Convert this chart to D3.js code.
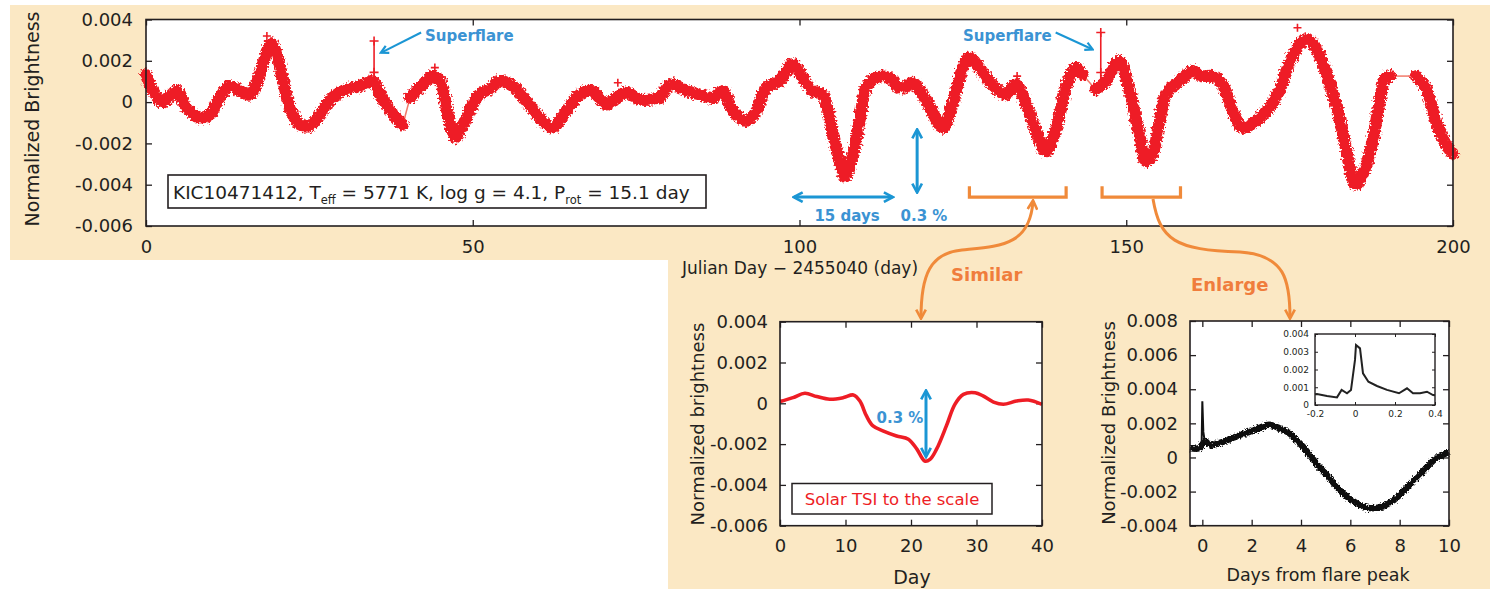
<!DOCTYPE html>
<html><head><meta charset="utf-8">
<script src="https://cdn.jsdelivr.net/npm/d3@7"></script>
<style>
body{margin:0;background:#fff}
svg{display:block}
text{font-family:"DejaVu Sans",sans-serif;fill:#231f20}
</style>
</head><body>
<svg id="fig" width="1490" height="589"></svg>
<script>
// ---- KIC 10471412 light curve (normalized brightness, in units of 1e-3) ----
const lcDay = [0,1.1,2.6,3.7,4.7,6.2,8.2,9.8,11.3,12.8,14.4,15.9,17.4,18.5,19.2,20.0,21.0,22.0,23.5,25.0,26.6,28.6,30.7,32.7,34.7,35.8,37.8,39.3,
  40.4,41.9,43.9,45.0,46.2,47.3,48.3,49.5,51.0,52.6,54.1,56.1,58.2,60.2,62.2,64.3,66.4,68.3,70.4,72.0,73.5,75.5,77.5,78.6,79.6,80.6,82.7,84.7,86.7,88.3,89.8,91.8,93.4,94.9,96.9,98.9,100.5,102.0,103.5,105.0,106.4,106.9,107.9,109.2,110.2,111.7,113.8,115.0,
  116.2,117.3,118.8,119.9,121.9,123.4,125.0,126.0,127.5,129.5,131.6,133.1,134.7,136.2,137.7,139.3,140.8,142.3,143.3,
  145.3,146.9,148.9,150.5,152.0,153.0,154.0,155.0,156.1,158.1,160.1,161.6,163.2,164.7,166.3,167.8,169.8,171.9,173.4,174.9,176.5,177.7,179.0,180.5,182.1,183.6,185.1,186.4,187.7,188.7,189.7,190.4,
  194.3,195.8,197.4,198.9,200.0];
const lcFlux = [1.3,0.53,0.0,0.3,0.55,-0.26,-0.74,-0.6,0.23,0.78,0.53,0.37,1.34,2.48,2.85,2.3,1.02,-0.26,-1.08,-1.16,-0.6,0.23,0.62,0.78,1.02,0.37,-0.6,-1.1,
  0.21,0.7,1.26,1.02,-0.6,-1.71,-1.23,-0.44,0.37,0.62,1.02,0.78,0.05,-0.74,-1.23,-0.44,0.37,0.53,-0.11,0.21,0.46,0.13,0.13,0.2,0.7,0.86,0.53,0.37,0.21,0.53,-0.44,-0.92,-0.44,0.7,1.02,1.83,1.18,0.53,0.37,-1.41,-3.17,-3.6,-2.86,-0.92,0.7,1.18,1.18,0.7,
  0.7,0.94,0.37,-0.2,-1.24,-0.11,1.67,2.16,1.67,0.86,0.37,0.86,-0.11,-1.41,-2.38,-1.24,0.7,1.67,1.34,
  0.62,1.02,1.99,0.53,-1.57,-2.86,-2.54,-1.08,0.37,1.0,1.5,1.26,1.26,0.86,-0.44,-1.24,-0.92,-0.27,0.53,1.83,2.8,3.04,2.64,1.5,-0.11,-2.21,-4.0,-3.35,-1.89,-0.11,1.18,1.26,
  1.26,0.7,-0.92,-2.05,-2.5];
const lcGapAfter = [39.3, 115.0, 143.3, 190.4];   // last day before each data gap
const flareDay = [34.9, 146.1];
const flareBase = [1.0, 0.8];
const flareMid = [1.44, 1.43];
const flarePeak = [2.96, 3.37];
const outlierDay = [0.0, 18.5, 44.2, 72.2, 133.3, 176.2, 199.6];
const outlierFlux = [1.5, 3.2, 1.67, 0.94, 1.26, 3.6, -2.54];
const mainXTicks = [0, 50, 100, 150, 200];
const mainXTickLabels = ["0", "50", "100", "150", "200"];
const mainYTicks = [-6, -4, -2, 0, 2, 4];
const mainYTickLabels = ["-0.006", "-0.004", "-0.002", "0", "0.002", "0.004"];

// ---- Solar TSI scaled to the same amplitude ----
const tsiDay = [0,0.3,2,3.8,5.6,7.6,9.7,11.2,12.2,13.2,14.2,15.8,17.8,19.6,20.9,22.1,22.9,23.9,25.4,26.7,28,29.8,31,32.6,34.1,36.1,37.9,40];
const tsiFlux = [0.1,0.11,0.28,0.49,0.33,0.2,0.28,0.41,0.11,-0.62,-1.11,-1.36,-1.6,-1.76,-2.25,-2.83,-2.75,-2.25,-1.11,-0.05,0.44,0.52,0.36,0.06,-0.05,0.11,0.16,-0.05];
const tsiXTicks = [0, 10, 20, 30, 40];
const tsiXTickLabels = ["0", "10", "20", "30", "40"];

// ---- Superflare enlargement ----
const flareLcDay = [-0.5,-0.13,-0.03,0,0.04,0.1,0.34,0.68,1.22,1.76,2.3,2.71,3.12,3.52,4.07,4.61,5.15,5.69,6.24,6.78,7.32,7.86,8.4,8.94,9.49,10];
const flareLcFlux = [0.55,0.55,0.6,3.3,1.5,0.94,0.74,0.84,1.14,1.43,1.72,1.92,1.72,1.43,0.64,-0.33,-1.21,-2.09,-2.67,-2.97,-2.87,-2.38,-1.6,-0.82,-0.04,0.29];
const flareXTicks = [0, 2, 4, 6, 8, 10];
const flareXTickLabels = ["0", "2", "4", "6", "8", "10"];
const flareYTicks = [-4, -2, 0, 2, 4, 6, 8];
const flareYTickLabels = ["-0.004", "-0.002", "0", "0.002", "0.004", "0.006", "0.008"];
const insetDay = [-0.2,-0.19,-0.14,-0.09,-0.067,-0.04,-0.02,0,0.005,0.025,0.04,0.067,0.11,0.16,0.22,0.26,0.29,0.325,0.36,0.39,0.4];
const insetFlux = [0.6,0.62,0.51,0.43,0.85,0.66,0.85,2.54,3.38,3.19,1.78,1.31,1.07,0.85,0.66,0.94,0.66,0.66,0.75,0.56,0.55];
const insetXTicks = [-0.2, 0, 0.2, 0.4];
const insetXTickLabels = ["-0.2", "0", "0.2", "0.4"];
const insetYTicks = [0, 1, 2, 3, 4];
const insetYTickLabels = ["0", "0.001", "0.002", "0.003", "0.004"];

const RED = "#ee1d25", BLUE = "#1b96d4", ORANGE = "#f08a3a", INK = "#231f20", BEIGE = "#fbe8c4";

const svg = d3.select("#fig");

// background panels
svg.append("rect").attr("x", 0).attr("y", 0).attr("width", 1490).attr("height", 589).attr("fill", "#fff");
svg.append("rect").attr("x", 10).attr("y", 5).attr("width", 1480).attr("height", 255).attr("fill", BEIGE);
svg.append("rect").attr("x", 668).attr("y", 259).attr("width", 822).attr("height", 330).attr("fill", BEIGE);

const defs = svg.append("defs");
// photometric scatter: roughen the edges of the light-curve bands
function roughFilter(id, freq, scale) {
  const f = defs.append("filter").attr("id", id).attr("x", "-5%").attr("y", "-20%").attr("width", "110%").attr("height", "140%");
  f.append("feTurbulence").attr("type", "fractalNoise").attr("baseFrequency", freq).attr("numOctaves", 2).attr("seed", 3).attr("result", "noise");
  f.append("feDisplacementMap").attr("in", "SourceGraphic").attr("in2", "noise").attr("scale", scale)
    .attr("xChannelSelector", "R").attr("yChannelSelector", "G");
}
roughFilter("roughRed", 0.45, 7);
roughFilter("roughBlack", 0.6, 5);

// arrowhead markers
function marker(id, color, size) {
  defs.append("marker").attr("id", id).attr("viewBox", "0 0 10 10")
    .attr("refX", 8).attr("refY", 5).attr("markerWidth", size).attr("markerHeight", size)
    .attr("orient", "auto-start-reverse").attr("markerUnits", "strokeWidth")
    .append("path").attr("d", "M1,1 L8.5,5 L1,9").attr("fill", "none")
    .attr("stroke", color).attr("stroke-width", 2.2).attr("stroke-linejoin", "miter");
}
marker("arrBlue", BLUE, 4);
marker("arrBlueS", BLUE, 5);
marker("arrOrange", ORANGE, 4);

// framed axes with inward ticks on all four sides
function framedAxes(g, x, y, o) {
  const [x0, x1] = x.range(), [y0, y1] = y.range();
  g.append("rect").attr("x", x0).attr("y", y1).attr("width", x1 - x0).attr("height", y0 - y1).attr("fill", "#fff");
  const style = sel => {
    sel.select(".domain").remove();
    sel.selectAll(".tick line").attr("stroke", INK).attr("stroke-width", o.tw || 1.3);
    sel.selectAll("text").attr("font-family", "DejaVu Sans, sans-serif").attr("font-size", o.fs).attr("fill", INK).style("fill", INK);
  };
  g.append("g").attr("transform", `translate(0,${y0})`)
    .call(d3.axisBottom(x).tickValues(o.xt).tickFormat((d, i) => o.xl[i]).tickSizeInner(-o.ts).tickSizeOuter(0).tickPadding(o.xp)).call(style);
  g.append("g").attr("transform", `translate(0,${y1})`)
    .call(d3.axisTop(x).tickValues(o.xt).tickFormat("").tickSizeInner(-o.ts).tickSizeOuter(0)).call(style);
  g.append("g").attr("transform", `translate(${x0},0)`)
    .call(d3.axisLeft(y).tickValues(o.yt).tickFormat((d, i) => o.yl[i]).tickSizeInner(-o.ts).tickSizeOuter(0).tickPadding(o.yp)).call(style);
  g.append("g").attr("transform", `translate(${x1},0)`)
    .call(d3.axisRight(y).tickValues(o.yt).tickFormat("").tickSizeInner(-o.ts).tickSizeOuter(0)).call(style);
}
function frame(g, x, y, w) {
  const [x0, x1] = x.range(), [y0, y1] = y.range();
  g.append("rect").attr("x", x0).attr("y", y1).attr("width", x1 - x0).attr("height", y0 - y1)
    .attr("fill", "none").attr("stroke", INK).attr("stroke-width", w || 1.6);
}
function cross(g, cx, cy, s, color, w) {
  g.append("path").attr("d", `M${cx - s},${cy}H${cx + s}M${cx},${cy - s}V${cy + s}`)
    .attr("stroke", color).attr("stroke-width", w).attr("fill", "none");
}

// ================= main light curve =================
const xM = d3.scaleLinear().domain([0, 200]).range([146, 1453]);
const yM = d3.scaleLinear().domain([-6, 4]).range([226, 19.5]);
const gM = svg.append("g");
framedAxes(gM, xM, yM, { xt: mainXTicks, xl: mainXTickLabels, yt: mainYTicks, yl: mainYTickLabels, ts: 6, fs: 18, xp: 14, yp: 13 });

const lcPts = lcDay.map((d, i) => [d, lcFlux[i]]);
const segments = [];
let cur = [];
lcPts.forEach(p => { cur.push(p); if (lcGapAfter.includes(p[0])) { segments.push(cur); cur = []; } });
segments.push(cur);

const lineM = d3.line().x(d => xM(d[0])).y(d => yM(d[1])).curve(d3.curveCatmullRom.alpha(0.5));
// thin connectors across data gaps
for (let i = 0; i < segments.length - 1; i++) {
  const a = segments[i][segments[i].length - 1], b = segments[i + 1][0];
  gM.append("path").attr("d", d3.line().x(d => xM(d[0])).y(d => yM(d[1]))([a, b]))
    .attr("stroke", "#f27a6a").attr("stroke-width", 1.5).attr("fill", "none");
}
const band = gM.append("g").attr("filter", "url(#roughRed)");
segments.forEach(seg => {
  band.append("path").attr("d", lineM(seg)).attr("fill", "none").attr("stroke", RED)
    .attr("stroke-width", 12).attr("stroke-linejoin", "round").attr("stroke-linecap", "round");
});
outlierDay.forEach((d, i) => cross(gM, xM(d), yM(outlierFlux[i]), 4, RED, 1.6));
// superflare spikes
flareDay.forEach((d, i) => {
  gM.append("line").attr("x1", xM(d)).attr("x2", xM(d)).attr("y1", yM(flareBase[i])).attr("y2", yM(flarePeak[i]))
    .attr("stroke", RED).attr("stroke-width", 1.6);
  cross(gM, xM(d), yM(flarePeak[i]), 4.5, RED, 1.6);
  cross(gM, xM(d), yM(flareMid[i]), 4.5, RED, 1.6);
});
frame(gM, xM, yM);

// axis titles
svg.append("text").attr("transform", "translate(39,119) rotate(-90)").attr("text-anchor", "middle")
  .attr("font-size", 19).text("Normalized Brightness");
svg.append("text").attr("x", 800).attr("y", 274).attr("text-anchor", "middle").attr("font-size", 17)
  .text("Julian Day \u2212 2455040 (day)");

// star parameters box
gM.append("rect").attr("x", 168).attr("y", 175).attr("width", 538).attr("height", 33)
  .attr("fill", "#fff").attr("stroke", INK).attr("stroke-width", 1.6);
const info = gM.append("text").attr("x", 173).attr("y", 199).attr("font-size", 18.5);
info.append("tspan").text("KIC10471412, T");
info.append("tspan").attr("font-size", 11.5).attr("dy", 5).text("eff");
info.append("tspan").attr("dy", -5).text(" = 5771 K, log g = 4.1, P");
info.append("tspan").attr("font-size", 11.5).attr("dy", 5).text("rot");
info.append("tspan").attr("dy", -5).text(" = 15.1 day");

// superflare labels
const sfStyle = t => t.attr("font-size", 15).attr("font-weight", "bold").style("fill", "#3b93d3");
svg.append("text").attr("x", 425).attr("y", 41).text("Superflare").call(sfStyle);
svg.append("text").attr("x", 963).attr("y", 41).text("Superflare").call(sfStyle);
svg.append("line").attr("x1", xM(42.1)).attr("y1", yM(3.37)).attr("x2", xM(36.0)).attr("y2", yM(2.4))
  .attr("stroke", BLUE).attr("stroke-width", 2).attr("marker-end", "url(#arrBlueS)");
svg.append("line").attr("x1", xM(139.2)).attr("y1", yM(3.37)).attr("x2", xM(144.8)).attr("y2", yM(2.56))
  .attr("stroke", BLUE).attr("stroke-width", 2).attr("marker-end", "url(#arrBlueS)");

// rotation period and amplitude scale arrows
svg.append("line").attr("x1", xM(99.2)).attr("x2", xM(114.2)).attr("y1", yM(-4.6)).attr("y2", yM(-4.6))
  .attr("stroke", BLUE).attr("stroke-width", 3).attr("marker-start", "url(#arrBlue)").attr("marker-end", "url(#arrBlue)");
svg.append("line").attr("x1", xM(118)).attr("x2", xM(118)).attr("y1", yM(-1.35)).attr("y2", yM(-4.35))
  .attr("stroke", BLUE).attr("stroke-width", 3).attr("marker-start", "url(#arrBlue)").attr("marker-end", "url(#arrBlue)");
const blueTxt = t => t.attr("font-size", 15).attr("font-weight", "bold").style("fill", "#3b93d3");
svg.append("text").attr("x", 847).attr("y", 221).attr("text-anchor", "middle").text("15 days").call(blueTxt);
svg.append("text").attr("x", 924).attr("y", 221).attr("text-anchor", "middle").text("0.3 %").call(blueTxt);

// orange brackets
function bracket(d0, d1) {
  const xa = xM(d0), xb = xM(d1), yt = yM(-4.08), yb = yM(-4.6);
  svg.append("path").attr("d", `M${xa},${yt}V${yb}H${xb}V${yt}`).attr("fill", "none")
    .attr("stroke", ORANGE).attr("stroke-width", 3.2);
}
bracket(126, 140.8);
bracket(146.3, 158.3);
svg.append("path").attr("d", "M1033,201 C1030,246 1000,246 962,250 C930,253 921,275 921,318")
  .attr("fill", "none").attr("stroke", ORANGE).attr("stroke-width", 3)
  .attr("marker-start", "url(#arrOrange)").attr("marker-end", "url(#arrOrange)");
svg.append("path").attr("d", "M1153,199 C1160,240 1175,250 1240,252 C1285,255 1290,280 1290,318")
  .attr("fill", "none").attr("stroke", ORANGE).attr("stroke-width", 3)
  .attr("marker-end", "url(#arrOrange)");
const orTxt = t => t.attr("font-size", 18).attr("font-weight", "bold").style("fill", "#f07d3c");
svg.append("text").attr("x", 951).attr("y", 281).text("Similar").call(orTxt);
svg.append("text").attr("x", 1191).attr("y", 291).text("Enlarge").call(orTxt);

// ================= solar TSI panel =================
const xT = d3.scaleLinear().domain([0, 40]).range([780, 1042]);
const yT = d3.scaleLinear().domain([-6, 4]).range([525.7, 321.7]);
const gT = svg.append("g");
framedAxes(gT, xT, yT, { xt: tsiXTicks, xl: tsiXTickLabels, yt: mainYTicks, yl: mainYTickLabels, ts: 6, fs: 18, xp: 14, yp: 12 });
gT.append("path").attr("d", d3.line().x(d => xT(d[0])).y(d => yT(d[1])).curve(d3.curveCatmullRom.alpha(0.5))(tsiDay.map((d, i) => [d, tsiFlux[i]])))
  .attr("fill", "none").attr("stroke", RED).attr("stroke-width", 3.6).attr("stroke-linejoin", "round");
gT.append("line").attr("x1", 926).attr("x2", 926).attr("y1", yT(0.6)).attr("y2", yT(-2.6))
  .attr("stroke", BLUE).attr("stroke-width", 3).attr("marker-start", "url(#arrBlue)").attr("marker-end", "url(#arrBlue)");
gT.append("text").attr("x", 900).attr("y", 423).attr("text-anchor", "middle").text("0.3 %").call(blueTxt);
gT.append("rect").attr("x", 792).attr("y", 483.5).attr("width", 200).attr("height", 30.5)
  .attr("fill", "#fff").attr("stroke", INK).attr("stroke-width", 1.5);
gT.append("text").attr("x", 892).attr("y", 505).attr("text-anchor", "middle").attr("font-size", 16.5)
  .style("fill", RED).text("Solar TSI to the scale");
frame(gT, xT, yT);
svg.append("text").attr("transform", "translate(704,424) rotate(-90)").attr("text-anchor", "middle")
  .attr("font-size", 18).text("Normalized brightness");
svg.append("text").attr("x", 912).attr("y", 584).attr("text-anchor", "middle").attr("font-size", 19).text("Day");

// ================= flare enlargement panel =================
const xF = d3.scaleLinear().domain([-0.5, 10]).range([1190, 1449]);
const yF = d3.scaleLinear().domain([-4, 8]).range([525.7, 321]);
const gF = svg.append("g");
framedAxes(gF, xF, yF, { xt: flareXTicks, xl: flareXTickLabels, yt: flareYTicks, yl: flareYTickLabels, ts: 6, fs: 18, xp: 14, yp: 12 });
const fPts = flareLcDay.map((d, i) => [d, flareLcFlux[i]]);
gF.append("g").attr("filter", "url(#roughBlack)").append("path")
  .attr("d", d3.line().x(d => xF(d[0])).y(d => yF(d[1])).curve(d3.curveCatmullRom.alpha(0.5))(fPts.filter(p => Math.abs(p[0]) > 0.05)))
  .attr("fill", "none").attr("stroke", "#111").attr("stroke-width", 6.5).attr("stroke-linejoin", "round");
gF.append("path").attr("d", d3.line().x(d => xF(d[0])).y(d => yF(d[1]))(fPts.filter(p => p[0] < 0.4)))
  .attr("fill", "none").attr("stroke", "#111").attr("stroke-width", 2);
frame(gF, xF, yF);

// inset: flare profile
const xI = d3.scaleLinear().domain([-0.2, 0.4]).range([1315, 1435]);
const yI = d3.scaleLinear().domain([0, 4]).range([405, 334]);
const gI = svg.append("g");
framedAxes(gI, xI, yI, { xt: insetXTicks, xl: insetXTickLabels, yt: insetYTicks, yl: insetYTickLabels, ts: 3, fs: 9, xp: 6, yp: 6, tw: 1 });
gI.append("path").attr("d", d3.line().x(d => xI(d[0])).y(d => yI(d[1]))(insetDay.map((d, i) => [d, insetFlux[i]])))
  .attr("fill", "none").attr("stroke", "#222").attr("stroke-width", 2);
frame(gI, xI, yI, 1.4);

svg.append("text").attr("transform", "translate(1115,423) rotate(-90)").attr("text-anchor", "middle")
  .attr("font-size", 18).text("Normalized Brightness");
svg.append("text").attr("x", 1318).attr("y", 581).attr("text-anchor", "middle").attr("font-size", 17.5).text("Days from flare peak");
</script>
</body></html>
